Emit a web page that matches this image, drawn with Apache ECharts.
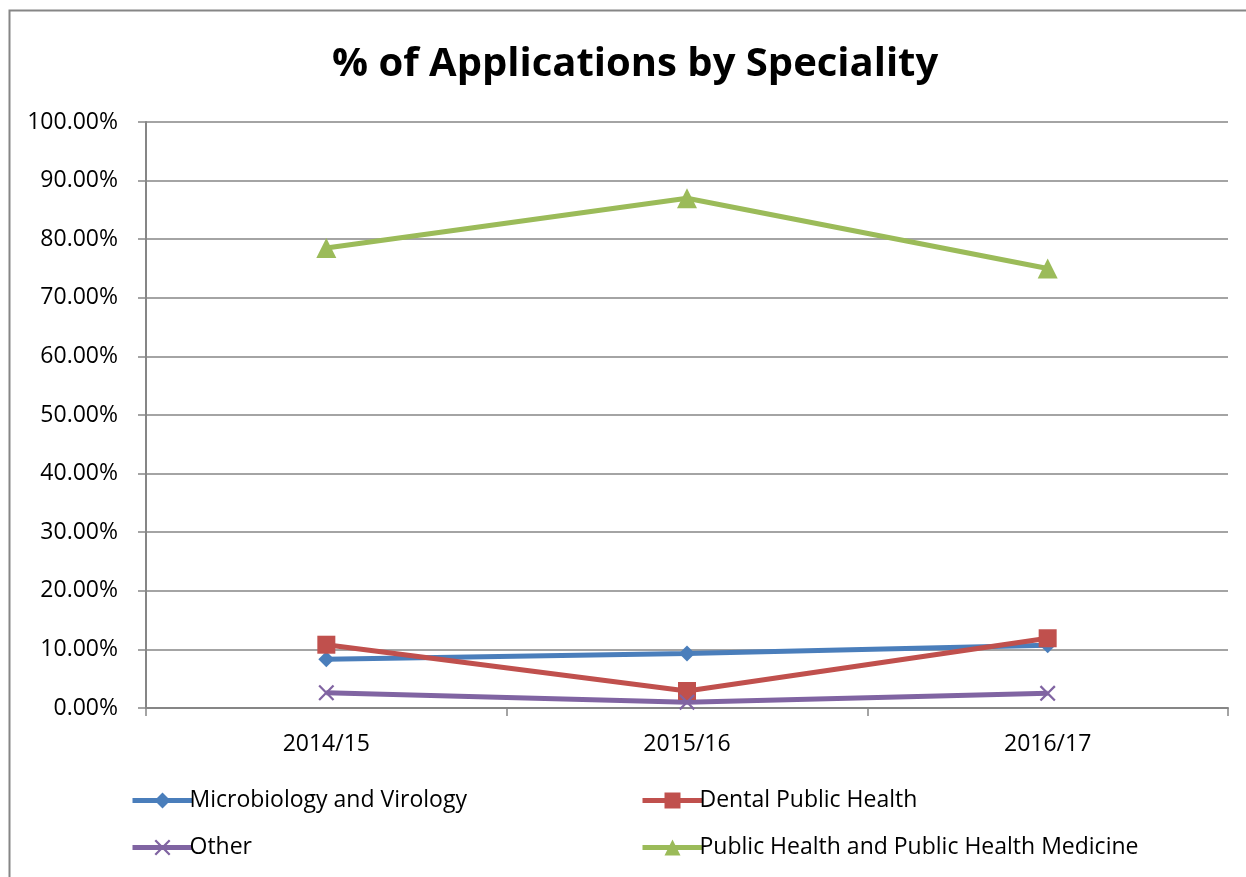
<!DOCTYPE html>
<html>
<head>
<meta charset="utf-8">
<script src="https://cdn.jsdelivr.net/npm/echarts@6/dist/echarts.min.js"></script>
<style>
  html, body { margin: 0; padding: 0; background: #ffffff; }
  #chart { width: 1246px; height: 877px; }
</style>
</head>
<body>
<div id="chart"></div>
<script>
// Academic years on the category axis
const years = ['2014/15', '2015/16', '2016/17'];

// Share of applications per speciality, in percent
const microbiologyVirology = [8.3, 9.3, 10.7];
const dentalPublicHealth = [10.8, 2.9, 11.9];
const otherSpecialities = [2.6, 1.0, 2.5];
const publicHealthMedicine = [78.5, 87.0, 75.0];

// Value axis ticks
const yMin = 0;
const yMax = 100;
const yStep = 10;

const FONT = 'Open Sans';
const GRID_GRAY = '#868686';

// Filled "x" cross marker
const crossPath = 'path://M0,1 L1,0 L5,4 L9,0 L10,1 L6,5 L10,9 L9,10 L5,6 L1,10 L0,9 L4,5 Z';

const seriesDefs = [
  { name: 'Microbiology and Virology', data: microbiologyVirology, color: '#4A7EBB', symbol: 'diamond', size: 16 },
  { name: 'Dental Public Health', data: dentalPublicHealth, color: '#C0504D', symbol: 'rect', size: 18 },
  { name: 'Other', data: otherSpecialities, color: '#8064A2', symbol: crossPath, size: 16 },
  { name: 'Public Health and Public Health Medicine', data: publicHealthMedicine, color: '#9BBB59', symbol: 'triangle', size: 20 }
];

const legendPos = [
  { left: 130, top: 789 },
  { left: 640, top: 789 },
  { left: 130, top: 836 },
  { left: 640, top: 836 }
];

const chart = echarts.init(document.getElementById('chart'), null, { renderer: 'canvas' });

chart.setOption({
  backgroundColor: '#ffffff',
  animation: false,
  textStyle: { fontFamily: FONT },
  title: {
    text: '% of Applications by Speciality',
    left: 327,
    top: 40,
    textStyle: { fontFamily: FONT, fontSize: 40, fontWeight: 'bold', color: '#000000' }
  },
  graphic: [{
    type: 'rect',
    shape: { x: 9.5, y: 10.5, width: 1260, height: 900 },
    style: { fill: 'none', stroke: GRID_GRAY, lineWidth: 2 },
    silent: true
  }],
  legend: seriesDefs.map((s, i) => ({
    data: [s.name],
    left: legendPos[i].left,
    top: legendPos[i].top,
    itemWidth: 60,
    itemHeight: 20,
    itemGap: 0,
    padding: 0,
    lineStyle: { width: 5 },
    textStyle: { fontFamily: FONT, fontSize: 23, color: '#000000', padding: [0, 0, 0, -8] }
  })),
  grid: { left: 146, right: 18, top: 122, bottom: 169, containLabel: false },
  xAxis: {
    type: 'category',
    data: years,
    boundaryGap: true,
    axisLine: { show: true, lineStyle: { color: GRID_GRAY, width: 2 } },
    axisTick: { show: true, length: 8, alignWithLabel: false, lineStyle: { color: GRID_GRAY, width: 1.5 } },
    axisLabel: { margin: 25, fontFamily: FONT, fontSize: 23, color: '#000000' },
    splitLine: { show: false }
  },
  yAxis: {
    type: 'value',
    min: yMin,
    max: yMax,
    interval: yStep,
    axisLine: { show: true, lineStyle: { color: GRID_GRAY, width: 2 } },
    axisTick: { show: true, length: 8, lineStyle: { color: GRID_GRAY, width: 1.5 } },
    axisLabel: {
      margin: 28,
      fontFamily: FONT,
      fontSize: 23,
      color: '#000000',
      formatter: v => v.toFixed(2) + '%'
    },
    splitLine: { show: true, lineStyle: { color: GRID_GRAY, width: 1.5 } }
  },
  series: seriesDefs.map(s => ({
    name: s.name,
    type: 'line',
    data: s.data,
    symbol: s.symbol,
    symbolSize: s.size,
    showAllSymbol: true,
    color: s.color,
    lineStyle: { color: s.color, width: 5 },
    itemStyle: { color: s.color, borderWidth: 0 }
  }))
});
</script>
</body>
</html>
